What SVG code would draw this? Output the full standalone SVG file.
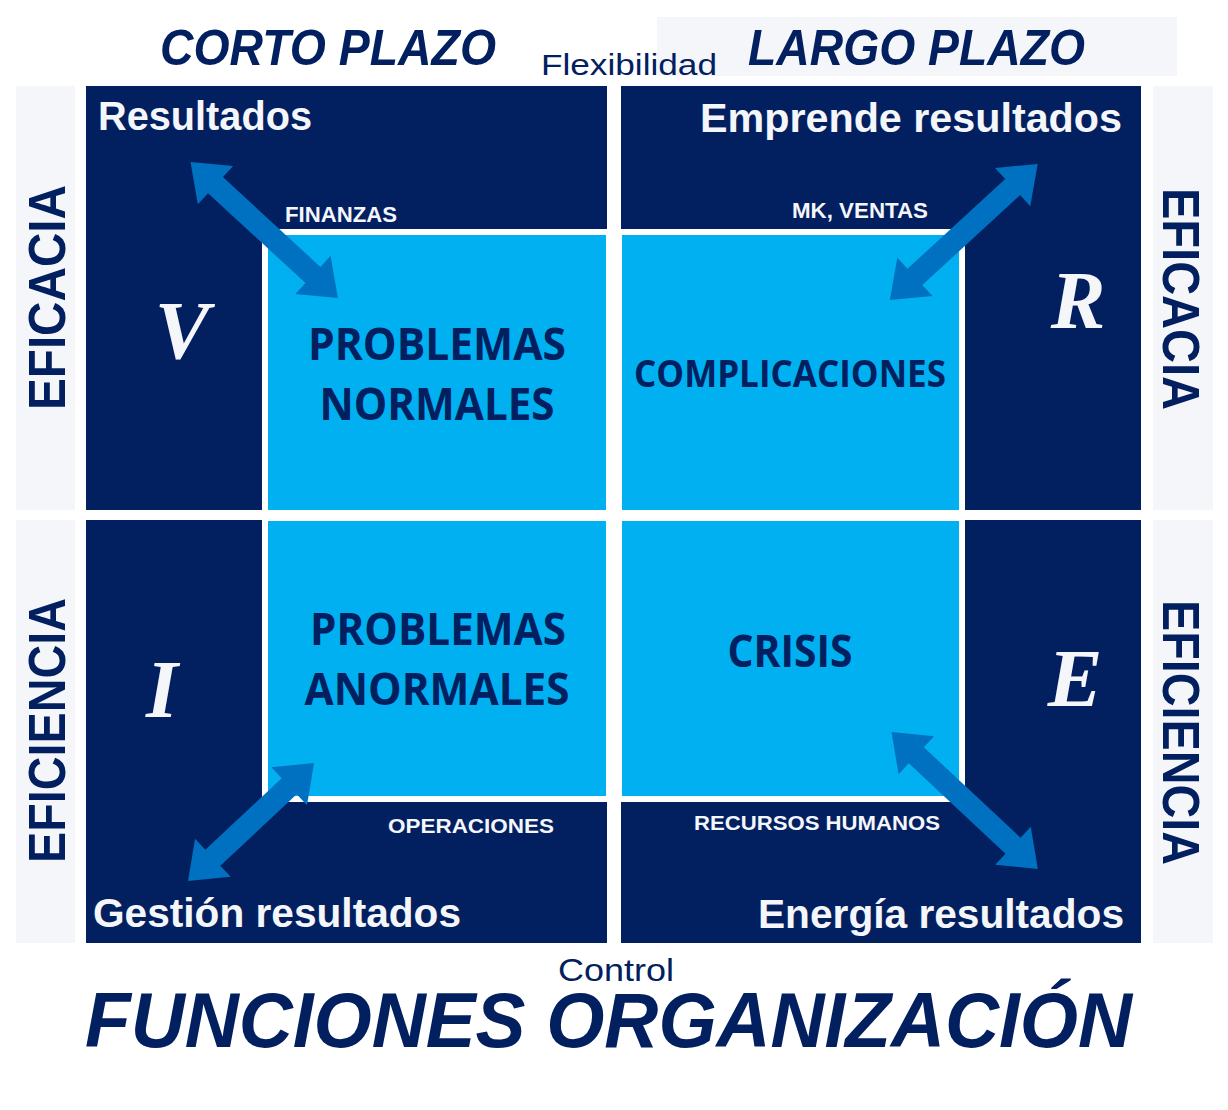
<svg xmlns="http://www.w3.org/2000/svg" width="1228" height="1110" viewBox="0 0 1228 1110">
<style>
.dark{fill:#022060}
.lb{fill:#00b0f0}
.pale{fill:#f5f6fa}
.wh{fill:#ffffff}
.arrow{fill:#0070c0}
.hdr{font-family:"Liberation Sans",Arial,sans-serif;font-weight:bold;font-style:italic;fill:#022060}
.thin{font-family:"Liberation Sans",Arial,sans-serif;fill:#022060}
.side{font-family:"Liberation Sans",Arial,sans-serif;font-weight:bold;fill:#022060;font-size:52px}
.wt{font-family:"Liberation Sans",Arial,sans-serif;font-weight:bold;fill:#f5f6fa}
.bt{font-family:"Open Sans","Liberation Sans",Arial,sans-serif;font-weight:bold;fill:#022060;text-anchor:middle}
.let{font-family:"Liberation Serif","Times New Roman",serif;font-weight:bold;font-style:italic;fill:#f5f6fa;font-size:82px;text-anchor:middle}
</style>
<defs>
<polygon id="dblA" points="0,0 33,-26 33,-11 -33,-11 -33,-26 0,0"/>
</defs>
<rect width="1228" height="1110" fill="#ffffff"/>

<g id="header">
<rect class="pale" x="657" y="17" width="520" height="59"/>
<text class="hdr" x="160" y="65" font-size="50" textLength="336" lengthAdjust="spacingAndGlyphs">CORTO PLAZO</text>
<text class="hdr" x="748" y="65" font-size="50" textLength="337" lengthAdjust="spacingAndGlyphs">LARGO PLAZO</text>
<text class="thin" x="541" y="75" font-size="30" textLength="176" lengthAdjust="spacingAndGlyphs">Flexibilidad</text>
</g>

<g id="side-left">
<rect class="pale" x="16" y="86" width="59" height="424"/>
<rect class="pale" x="16" y="520" width="59" height="423"/>
<text class="side" transform="translate(65,410) rotate(-90)" textLength="225" lengthAdjust="spacingAndGlyphs">EFICACIA</text>
<text class="side" transform="translate(65,863) rotate(-90)" textLength="265" lengthAdjust="spacingAndGlyphs">EFICIENCIA</text>
</g>

<g id="side-right">
<rect class="pale" x="1153" y="86" width="60" height="424"/>
<rect class="pale" x="1153" y="520" width="60" height="423"/>
<text class="side" transform="translate(1163,188) rotate(90)" textLength="222" lengthAdjust="spacingAndGlyphs">EFICACIA</text>
<text class="side" transform="translate(1163,600) rotate(90)" textLength="265" lengthAdjust="spacingAndGlyphs">EFICIENCIA</text>
</g>

<g id="q-top-left">
<rect class="dark" x="86" y="86" width="521" height="424"/>
<rect class="wh" x="262" y="229" width="345" height="281"/>
<rect class="lb" x="268" y="235" width="338" height="275"/>
<text class="wt" x="98" y="130" font-size="40" textLength="214" lengthAdjust="spacingAndGlyphs">Resultados</text>
<text class="wt" x="285" y="222" font-size="22" textLength="112" lengthAdjust="spacingAndGlyphs">FINANZAS</text>
<text class="let" x="182" y="358">V</text>
<text class="bt" x="437" y="360" font-size="44" textLength="258" lengthAdjust="spacingAndGlyphs">PROBLEMAS</text>
<text class="bt" x="437" y="420" font-size="44" textLength="235" lengthAdjust="spacingAndGlyphs">NORMALES</text>
</g>

<g id="q-top-right">
<rect class="dark" x="621" y="86" width="520" height="424"/>
<rect class="wh" x="621" y="229" width="344" height="281"/>
<rect class="lb" x="622" y="235" width="337" height="275"/>
<text class="wt" x="700" y="132" font-size="40" textLength="422" lengthAdjust="spacingAndGlyphs">Emprende resultados</text>
<text class="wt" x="792" y="218" font-size="22" textLength="136" lengthAdjust="spacingAndGlyphs">MK, VENTAS</text>
<text class="let" x="1078" y="328">R</text>
<text class="bt" x="790" y="387" font-size="38" textLength="312" lengthAdjust="spacingAndGlyphs">COMPLICACIONES</text>
</g>

<g id="q-bottom-left">
<rect class="dark" x="86" y="520" width="521" height="423"/>
<rect class="wh" x="262" y="520" width="345" height="282"/>
<rect class="lb" x="268" y="521" width="338" height="275"/>
<text class="wt" x="93" y="927" font-size="40" textLength="368" lengthAdjust="spacingAndGlyphs">Gestión resultados</text>
<text class="wt" x="388" y="833" font-size="21" textLength="166" lengthAdjust="spacingAndGlyphs">OPERACIONES</text>
<text class="let" x="162" y="717">I</text>
<text class="bt" x="438" y="645" font-size="44" textLength="256" lengthAdjust="spacingAndGlyphs">PROBLEMAS</text>
<text class="bt" x="437" y="705" font-size="44" textLength="265" lengthAdjust="spacingAndGlyphs">ANORMALES</text>
</g>

<g id="q-bottom-right">
<rect class="dark" x="621" y="520" width="520" height="423"/>
<rect class="wh" x="621" y="520" width="344" height="282"/>
<rect class="lb" x="622" y="521" width="337" height="275"/>
<text class="wt" x="758" y="928" font-size="40" textLength="366" lengthAdjust="spacingAndGlyphs">Energía resultados</text>
<text class="wt" x="694" y="830" font-size="21" textLength="246" lengthAdjust="spacingAndGlyphs">RECURSOS HUMANOS</text>
<text class="let" x="1075" y="706">E</text>
<text class="bt" x="790" y="667" font-size="44" textLength="125" lengthAdjust="spacingAndGlyphs">CRISIS</text>
</g>

<g id="connectors">
<polygon class="arrow" transform="translate(190.5,162) rotate(42.7)" points="0,0 34,-26 34,-11 166.6,-11 166.6,-26 200.6,0 166.6,26 166.6,11 34,11 34,26"/>
<polygon class="arrow" transform="translate(1037.7,164) rotate(137.4)" points="0,0 34,-26 34,-11 166.8,-11 166.8,-26 200.8,0 166.8,26 166.8,11 34,11 34,26"/>
<polygon class="arrow" transform="translate(188,881) rotate(-43.1)" points="0,0 34,-26 34,-11 138.6,-11 138.6,-26 172.6,0 138.6,26 138.6,11 34,11 34,26"/>
<polygon class="arrow" transform="translate(891.5,732) rotate(43.1)" points="0,0 34,-26 34,-11 166.4,-11 166.4,-26 200.4,0 166.4,26 166.4,11 34,11 34,26"/>
</g>

<g id="footer">
<text class="thin" x="558" y="981" font-size="32" textLength="116" lengthAdjust="spacingAndGlyphs">Control</text>
<text class="hdr" x="85" y="1047" font-size="77" textLength="1047" lengthAdjust="spacingAndGlyphs">FUNCIONES ORGANIZACIÓN</text>
</g>
</svg>
